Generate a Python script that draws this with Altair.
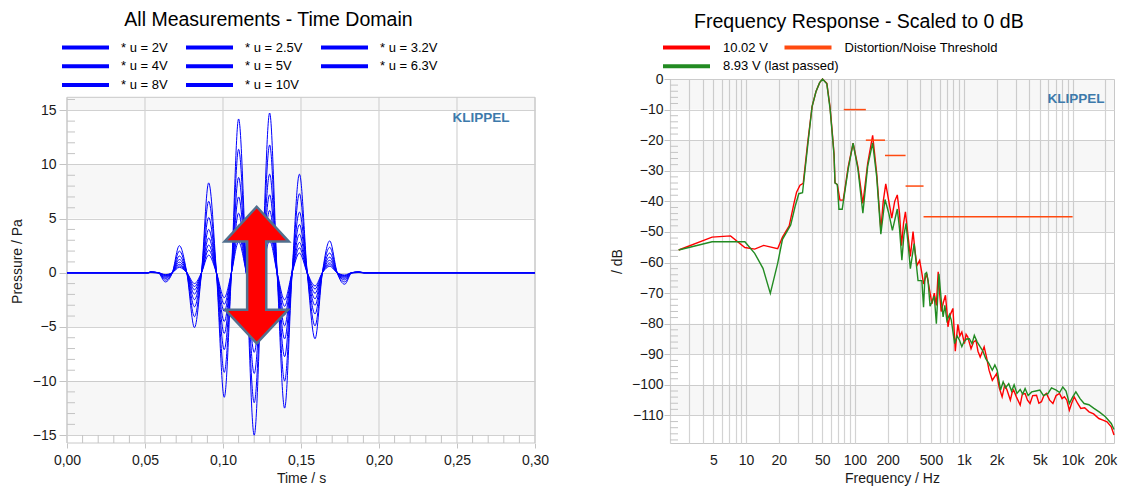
import altair as alt
import pandas as pd

FONT = "Liberation Sans"

# ---------------- Time domain data ----------------
volt_labels = ["* u = 2V", "* u = 2.5V", "* u = 3.2V", "* u = 4V",
               "* u = 5V", "* u = 6.3V", "* u = 8V", "* u = 10V"]
ext_times = [0.0535, 0.063, 0.072, 0.0817, 0.0908, 0.1008, 0.110, 0.120,
             0.1299, 0.1395, 0.149, 0.159, 0.1684, 0.178, 0.187]
zero_times = [0.0, 0.052, 0.0585, 0.0675, 0.0768, 0.0862, 0.0958, 0.1054,
              0.115, 0.125, 0.1347, 0.1443, 0.154, 0.1637, 0.1732, 0.1825,
              0.1905, 0.30]
p_2v = [0.02, -0.17, 0.50, -1.00, 1.63, -2.30, 2.85, -3.00, 2.95, -2.50, 1.82, -1.22, 0.59, -0.21, 0.02]
p_25v = [0.03, -0.21, 0.63, -1.27, 2.10, -2.90, 3.55, -3.75, 3.70, -3.10, 2.30, -1.50, 0.74, -0.27, 0.03]
p_32v = [0.03, -0.26, 0.78, -1.57, 2.56, -3.56, 4.40, -4.65, 4.57, -3.90, 2.80, -1.90, 0.91, -0.33, 0.03]
p_4v = [0.04, -0.33, 0.98, -1.97, 3.20, -4.50, 5.50, -5.85, 5.75, -4.90, 3.55, -2.40, 1.15, -0.41, 0.04]
p_5v = [0.05, -0.42, 1.23, -2.48, 4.00, -5.60, 7.00, -7.35, 7.20, -6.10, 4.45, -3.00, 1.44, -0.52, 0.05]
p_63v = [0.06, -0.53, 1.55, -3.14, 5.10, -7.10, 8.80, -9.30, 9.10, -7.75, 5.60, -3.80, 1.82, -0.66, 0.06]
p_8v = [0.08, -0.68, 2.00, -4.05, 6.60, -9.20, 11.40, -12.00, 11.80, -10.00, 7.30, -4.90, 2.35, -0.85, 0.08]
p_10v = [0.10, -0.85, 2.50, -5.06, 8.30, -11.50, 14.20, -15.00, 14.75, -12.50, 9.10, -6.10, 2.94, -1.06, 0.10]
peak_values = [p_2v, p_25v, p_32v, p_4v, p_5v, p_63v, p_8v, p_10v]

t_ticks = [0.0, 0.05, 0.10, 0.15, 0.20, 0.25, 0.30]
p_ticks = [-15, -10, -5, 0, 5, 10, 15]
p_frame_lo, p_frame_hi = [-15.72], [16.2]
p_bands_lo = [15, 5, -5, -15]
p_bands_hi = [16.2, 10, 0, -10]
p_minor = [v for v in range(-15, 17) if v % 5 != 0]
t_minor = [round(0.01 * i, 2) for i in range(1, 30) if i % 5 != 0]
arrow_t, arrow_p = [0.1216], [-0.21]

# ---------------- Frequency response data ----------------
red_f = [2.4, 4.87, 7.2, 9.75, 12.0, 14.5, 19.5, 21.6, 24.9, 27.6, 29.1, 31.3, 33.5, 36.9,
         40.4, 43.9, 47.4, 50.4, 55.2, 59.0, 62.1, 64.3, 65.6, 68.9, 72.8, 78.1, 86.7,
         96.2, 106.6, 118.3, 131, 145.5, 158.5, 173, 182, 192, 205, 218, 232, 245, 257,
         268, 280, 291, 307, 323, 342, 356, 371, 393, 410, 427, 457, 480, 510, 536, 560,
         582, 600, 620, 650, 679, 700, 716, 740, 759, 795, 836, 860, 883, 920, 960, 1014,
         1050, 1087, 1166, 1230, 1294, 1350, 1416, 1539, 1620, 1707, 1829, 2004, 2120,
         2251, 2380, 2497, 2679, 2780, 2871, 3050, 3298, 3450, 3660, 3850, 4062, 4300,
         4660, 4900, 5171, 5450, 5737, 6150, 6594, 7050, 7580, 8000, 8409, 8850, 9330,
         9800, 10350, 11100, 11890, 12900, 14150, 15600, 17420, 19000, 20700, 22650, 24000]
red_db = [-55.9, -51.7, -51.3, -55.1, -55.6, -54.4, -55.5, -51.7, -48.0, -40.5, -37.0, -34.7,
          -34.1, -20.5, -9.0, -4.1, -1.2, 0.0, -1.4, -9.0, -18.0, -24.5, -33.9, -34.5, -39.6,
          -39.6, -28.7, -21.0, -28.7, -40.7, -27.6, -18.4, -30.9, -49.3, -40.0, -34.3, -40.0,
          -45.5, -40.0, -37.9, -44.0, -54.5, -47.0, -43.4, -51.0, -58.0, -49.9, -56.0, -61.0,
          -59.3, -63.0, -67.0, -63.6, -68.0, -73.5, -70.0, -74.0, -63.0, -70.0, -76.0, -73.0,
          -70.7, -76.0, -81.0, -78.0, -76.7, -75.0, -89.0, -84.0, -80.2, -84.0, -82.7, -86.5,
          -83.5, -84.3, -88.2, -86.0, -85.4, -89.0, -90.9, -87.6, -91.0, -95.2, -98.5, -96.3,
          -101.0, -103.9, -100.0, -101.7, -105.0, -102.5, -101.7, -104.0, -106.6, -103.0,
          -102.8, -105.0, -106.1, -103.5, -103.4, -106.0, -105.5, -103.5, -102.8, -105.0,
          -106.1, -103.5, -102.8, -104.5, -103.9, -105.0, -108.3, -106.0, -103.9, -106.0,
          -107.7, -107.5, -108.8, -109.5, -111.0, -111.5, -112.1, -113.7, -116.4]
green_f = [2.4, 4.87, 9.75, 12.0, 14.3, 16.7, 19.5, 21.6, 25.7, 28.2, 30.5, 33.0, 36.9, 40.4,
           43.9, 47.4, 50.4, 55.2, 59.0, 62.1, 64.3, 65.6, 68.9, 71.3, 76.4, 86.7, 96.2, 106.6,
           118.3, 131, 145.5, 158.5, 173, 189, 205, 221, 245, 257, 270, 282, 295, 310, 323,
           350, 380, 412, 427, 441, 455, 470, 490, 536, 560, 591, 620, 646, 670, 700, 740, 769,
           824, 870, 914, 960, 1000, 1060, 1125, 1190, 1250, 1330, 1416, 1500, 1592, 1700,
           1829, 1930, 2028, 2177, 2300, 2420, 2589, 2750, 2900, 3078, 3300, 3480, 3660, 3900,
           4209, 4600, 5000, 5400, 5943, 6400, 7070, 7600, 8127, 8700, 9330, 10000, 10710,
           11700, 12760, 14100, 15700, 17800, 20000, 22660, 24000]
green_db = [-55.9, -53.2, -53.2, -57.0, -61.9, -70.1, -60.3, -52.4, -47.7, -41.7, -37.5, -37.2,
            -21.5, -9.0, -4.1, -1.2, 0.0, -1.6, -9.5, -18.5, -25.0, -34.0, -34.5, -42.6, -42.6,
            -29.5, -21.0, -29.5, -43.9, -28.5, -20.9, -32.0, -50.7, -39.4, -44.0, -49.5, -42.5,
            -49.0, -59.2, -51.0, -47.2, -55.0, -62.0, -53.8, -65.9, -65.9, -74.6, -63.7, -63.3,
            -66.0, -74.3, -71.0, -80.0, -63.7, -72.0, -77.8, -74.0, -79.0, -77.0, -78.9, -86.5,
            -84.0, -85.4, -87.5, -86.0, -85.0, -84.9, -86.5, -83.8, -86.0, -87.6, -89.0, -91.4,
            -93.0, -95.2, -93.5, -95.2, -101.7, -99.0, -101.0, -99.6, -102.0, -100.0, -102.8,
            -101.5, -103.0, -101.2, -103.5, -102.3, -102.0, -101.7, -103.5, -102.8, -101.0,
            -101.7, -102.5, -100.7, -102.0, -106.1, -104.0, -102.3, -104.5, -106.1, -106.5,
            -107.7, -109.0, -110.4, -112.6, -114.6]
thr_f1 = [79, 126, 189, 292, 427]
thr_f2 = [126, 189, 292, 427, 10000]
thr_db = [-10, -20, -25, -35, -45]

line_labels = ["10.02 V", "8.93 V (last passed)"]
line_colors = ["#ff0000", "#228b22"]
thr_label = "Distortion/Noise Threshold"
thr_color = "#ff4a10"
f_grid = [m * 10 ** e for e in range(0, 5) for m in range(1, 10) if 2 <= m * 10 ** e <= 20000]
f_labeled = [5, 10, 20, 50, 100, 200, 500, 1000, 2000, 5000, 10000, 20000]
db_ticks = [0, -10, -20, -30, -40, -50, -60, -70, -80, -90, -100, -110]
db_bands_lo = [-10, -30, -50, -70, -90, -110]
db_bands_hi = [0, -20, -40, -60, -80, -100]
db_minor = [v for v in range(-118, 0, 2) if v % 10 != 0]

# ---------------- sizes / styles ----------------
WL, WR, H = 468, 444, 364
GRID = "#d3d3d3"
FRAME = "#c8c8c8"
TICK = "#c4c4c4"
BAND_OP = 0.032
KLIPPEL_C = "#3d7aab"

def legend(x, y, cols, cpad, loff, direction):
    return alt.Legend(orient="none", legendX=x, legendY=y, columns=cols,
                      direction=direction,
                      title=None, symbolType="stroke", symbolSize=2209, symbolStrokeWidth=4,
                      labelFontSize=13, labelFont=FONT, labelColor="black", clipHeight=15,
                      columnPadding=cpad, rowPadding=3.8, labelOffset=loff)

# ---------------- left chart ----------------
rows = []
for lab, vals in zip(volt_labels, peak_values):
    for t, v in zip(ext_times, vals):
        rows.append({"series": lab, "t": t, "p": v})
    for t in zero_times:
        rows.append({"series": lab, "t": t, "p": 0.0})
wave_df = pd.DataFrame(rows).sort_values(["series", "t"])

t_scale = alt.Scale(domain=[0, 0.30], nice=False, zero=False)
p_scale = alt.Scale(domain=[-15.72, 17.89], nice=False, zero=False)
t_axis = alt.Axis(values=t_ticks, title="Time / s", tickSize=5, labelPadding=5, grid=False,
                  labelExpr="replace(format(datum.value, '.2f'), '.', ',')",
                  labelFlush=False, titlePadding=4)
p_axis = alt.Axis(values=p_ticks, title="Pressure / Pa", tickSize=8, labelPadding=3,
                  titlePadding=8, labelFlush=False)

def tx(field):
    return alt.X(field, type="quantitative", scale=t_scale, axis=t_axis)

def py(field):
    return alt.Y(field, type="quantitative", scale=p_scale, axis=p_axis)

bands_l = alt.Chart(pd.DataFrame({"lo": p_bands_lo, "hi": p_bands_hi})).mark_rect(
    color="black", opacity=BAND_OP).encode(
    y=py("lo"), y2="hi", x=alt.value(0), x2=alt.value(WL))
vgrid_l = alt.Chart(pd.DataFrame({"t": t_ticks, "lo": p_frame_lo * len(t_ticks),
                                  "hi": p_frame_hi * len(t_ticks)})).mark_rule(
    color=GRID, strokeWidth=1.2).encode(x=tx("t"), y=py("lo"), y2="hi")
frame_l = alt.Chart(pd.DataFrame({"lo": p_frame_lo, "hi": p_frame_hi})).mark_rect(
    fillOpacity=0, stroke=FRAME, strokeWidth=1).encode(
    y=py("lo"), y2="hi", x=alt.value(0), x2=alt.value(WL))
minor_py = alt.Chart(pd.DataFrame({"v": p_minor})).mark_rule(color=TICK).encode(
    y=py("v"), x=alt.value(0), x2=alt.value(8))
minor_tx = alt.Chart(pd.DataFrame({"v": t_minor})).mark_rule(color=TICK).encode(
    x=tx("v"), y=alt.value(H), y2=alt.value(H - 8))
waves = alt.Chart(wave_df).mark_line(strokeWidth=1, interpolate="monotone").encode(
    x=tx("t"), y=py("p"),
    color=alt.Color("series:N",
                    scale=alt.Scale(domain=volt_labels, range=["#0000ff"] * 8),
                    legend=legend(-7, -39, 3, 16, 10, "horizontal")),
    detail="series:N")
arrow_path = ("M0,-1 L0.47,-0.49 L0.14,-0.49 L0.14,0.51 L0.46,0.51 L0,1 "
              "L-0.46,0.51 L-0.14,0.51 L-0.14,-0.49 L-0.47,-0.49 Z")
arrow = alt.Chart(pd.DataFrame({"t": arrow_t, "p": arrow_p})).mark_point(
    shape=arrow_path, size=18660, filled=True, fill="#ff0000", stroke="#52708e",
    strokeWidth=2.5, opacity=1).encode(x=tx("t"), y=py("p"))
klip_l = alt.Chart(pd.DataFrame({"a": [0]})).mark_text(
    font=FONT, fontSize=13.5, fontWeight="bold", color=KLIPPEL_C).encode(
    x=alt.value(414), y=alt.value(39), text=alt.value("KLIPPEL"))

left = alt.layer(bands_l, vgrid_l, frame_l, minor_py, minor_tx, waves, arrow, klip_l).properties(
    width=WL, height=H, view=alt.ViewBackground(stroke="transparent"),
    title=alt.TitleParams("All Measurements - Time Domain", fontSize=19.5, font=FONT,
                          fontWeight="normal", anchor="middle", frame="bounds",
                          color="black", offset=10, dx=-11))

# ---------------- right chart ----------------
fr_rows = [{"series": line_labels[0], "f": f, "db": d} for f, d in zip(red_f, red_db)]
fr_rows += [{"series": line_labels[1], "f": f, "db": d} for f, d in zip(green_f, green_db)]
fr_df = pd.DataFrame(fr_rows)
thr_df = pd.DataFrame({"f1": thr_f1, "f2": thr_f2, "db": thr_db, "series": thr_label})

f_scale = alt.Scale(type="log", domain=[2, 24000], nice=False)
db_scale = alt.Scale(domain=[-119, 0], nice=False, zero=False)
f_axis = alt.Axis(values=f_grid, title="Frequency / Hz", ticks=False, labelPadding=10,
                  labelExpr=("indexof(" + str(f_labeled) + ", datum.value) >= 0 ? "
                             "(datum.value >= 1000 ? (datum.value / 1000) + 'k' : '' + datum.value) : ''"),
                  labelFlush=False, labelOverlap=False, titlePadding=4)
db_axis = alt.Axis(values=db_ticks, title="/ dB", tickSize=6, labelPadding=1,
                   titlePadding=6.5, labelFlush=False)

def fx(field):
    return alt.X(field, type="quantitative", scale=f_scale, axis=f_axis)

def dy(field):
    return alt.Y(field, type="quantitative", scale=db_scale, axis=db_axis)

line_color = alt.Color("series:N", scale=alt.Scale(domain=line_labels, range=line_colors),
                       legend=legend(-9, -39, 1, 19, 11, "vertical"))
thr_stroke = alt.Stroke("series:N", scale=alt.Scale(domain=[thr_label], range=[thr_color]),
                        legend=legend(112.5, -39, 1, 19, 11, "vertical"))

bands_r = alt.Chart(pd.DataFrame({"lo": db_bands_lo, "hi": db_bands_hi})).mark_rect(
    color="black", opacity=BAND_OP).encode(
    y=dy("lo"), y2="hi", x=alt.value(0), x2=alt.value(WR))
minor_dy = alt.Chart(pd.DataFrame({"v": db_minor})).mark_rule(color=TICK).encode(
    y=dy("v"), x=alt.value(0), x2=alt.value(8))
red_line = alt.Chart(fr_df[fr_df.series == line_labels[0]]).mark_line(strokeWidth=1.4).encode(
    x=fx("f"), y=dy("db"), color=line_color)
green_line = alt.Chart(fr_df[fr_df.series == line_labels[1]]).mark_line(strokeWidth=1.4).encode(
    x=fx("f"), y=dy("db"), color=line_color)
thr = alt.Chart(thr_df).mark_rule(strokeWidth=1.5).encode(
    x=fx("f1"), x2="f2", y=dy("db"), stroke=thr_stroke)
klip_r = alt.Chart(pd.DataFrame({"a": [0]})).mark_text(
    font=FONT, fontSize=13.5, fontWeight="bold", color=KLIPPEL_C).encode(
    x=alt.value(406), y=alt.value(20), text=alt.value("KLIPPEL"))

right = alt.layer(bands_r, minor_dy, red_line, green_line, thr, klip_r).properties(
    width=WR, height=H, view=alt.ViewBackground(stroke=FRAME),
    title=alt.TitleParams("Frequency Response - Scaled to 0 dB", fontSize=19.5, font=FONT,
                          fontWeight="normal", anchor="middle", frame="bounds",
                          color="black", offset=8, dx=-5))

chart = alt.hconcat(left, right, spacing=60).resolve_scale(
    color="independent", stroke="independent").properties(
    padding={"left": 1, "top": 1, "right": 0, "bottom": 0}
).configure_axis(
    gridColor=GRID, gridWidth=1.2, tickColor=TICK, domain=False,
    labelFont=FONT, titleFont=FONT, labelFontSize=14, titleFontSize=14,
    labelColor="#1a1a1a", titleColor="#1a1a1a", titleFontWeight="normal"
).configure_legend(labelFont=FONT)

chart.save("out.html", embed_options={"renderer": "svg", "actions": False})
